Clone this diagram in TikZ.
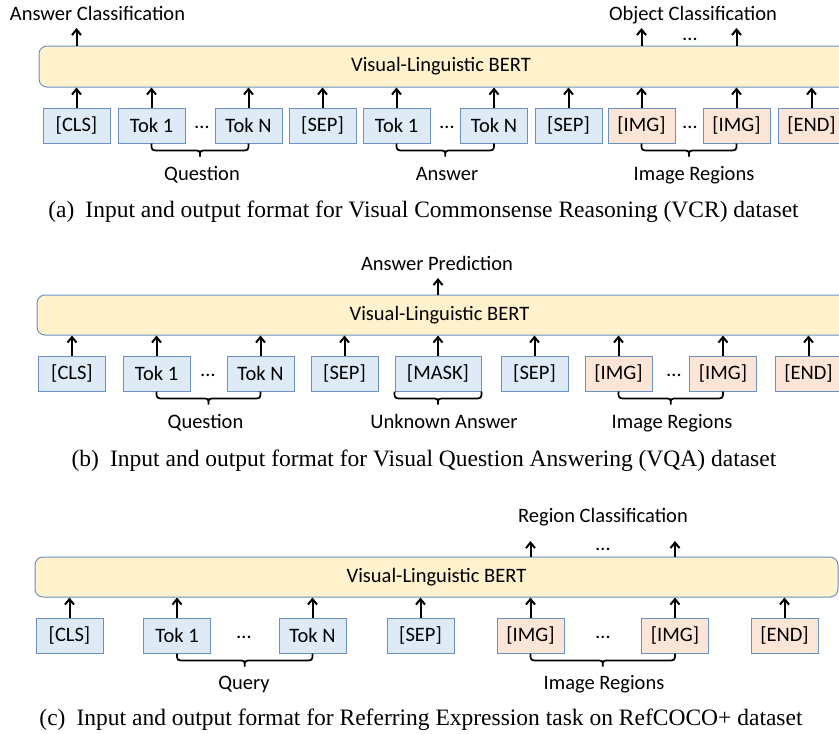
\documentclass[tikz,border=0pt]{standalone}
\usepackage{fontspec}
\setmainfont{Liberation Serif}
\newfontfamily\lblfont{Carlito}
\usetikzlibrary{arrows.meta,calc}
\definecolor{bordc}{HTML}{6A91C2}
\definecolor{tokfill}{HTML}{DEEBF7}
\definecolor{imgfill}{HTML}{FBE5D6}
\definecolor{bertfill}{HTML}{FFF2CC}
\newcommand\lblsize{\lblfont\fontsize{20.5}{24}\selectfont}
\newcommand\capsize{\fontsize{23.5}{27}\selectfont}
\newcommand\mybrace[2]{%
  \draw[brc] let \p1=(#1), \p2=(#2), \p3=($(#1)!0.5!(#2)$) in
    (\p1) .. controls (\x1,\y1-7pt) .. (\x1+8pt,\y1-7pt)
    -- (\x3-7pt,\y1-7pt) .. controls (\x3,\y1-7pt) .. (\x3,\y1-13pt)
    .. controls (\x3,\y1-7pt) .. (\x3+7pt,\y1-7pt)
    -- (\x2-8pt,\y1-7pt) .. controls (\x2,\y1-7pt) .. (\p2);}
\tikzset{
  tok/.style={draw=bordc, fill=tokfill, line width=1pt, minimum width=67pt,
    minimum height=35pt, inner sep=0pt, font=\lblsize},
  img/.style={tok, fill=imgfill},
  bert/.style={draw=bordc, fill=bertfill, line width=1pt, rounded corners=8pt,
    inner sep=0pt, font=\lblsize},
  arr/.style={-{Straight Barb[length=5.5pt,width=9pt]}, line width=2pt},
  brc/.style={line width=1.7pt},
  lbl/.style={font=\lblsize, inner sep=0pt, anchor=base},
  dotsn/.style={font=\lblsize, inner sep=0pt, anchor=base},
  captxt/.style={font=\capsize, inner sep=0pt, anchor=base},
}
\begin{document}
\begin{tikzpicture}[x=1pt,y=-1pt]
\useasboundingbox (0,0) rectangle (839,734);
\clip (0,0) rectangle (839,734);

% ---------------- panel (a)
\node[bert, minimum width=811pt, minimum height=41pt] (bA) at (444.5,66.5) {Visual-Linguistic BERT\hspace*{7pt}};
\node[tok] (a1) at (76.5,125.5) {[CLS]};
\node[tok] (a2) at (151.5,125.5) {Tok 1};
\node[dotsn] (ad1) at (202,128) {…};
\node[tok] (a3) at (248.5,125.5) {Tok N};
\node[tok] (a4) at (322.5,125.5) {[SEP]};
\node[tok] (a5) at (396.5,125.5) {Tok 1};
\node[dotsn] (ad2) at (447,128) {…};
\node[tok] (a6) at (494,125.5) {Tok N};
\node[tok] (a7) at (568.5,125.5) {[SEP]};
\node[img] (a8) at (641.5,125.5) {[IMG]};
\node[dotsn] (ad3) at (690,128) {…};
\node[img] (a9) at (736.5,125.5) {[IMG]};
\node[img] (a10) at (811.5,125.5) {[END]};
\foreach \n in {a1,a2,a3,a4,a5,a6,a7,a8,a9,a10}
  \draw[arr] (\n.north) -- (\n.north |- bA.south);
\coordinate (topA) at (0,28);
\node[lbl] (tA1) at (97.5,20) {Answer Classification};
\node[lbl] (tA2) at (693,20) {Object Classification};
\draw[arr] (a1.north |- bA.north) -- (a1.north |- topA);
\draw[arr] (a8.north |- bA.north) -- (a8.north |- topA);
\draw[arr] (a9.north |- bA.north) -- (a9.north |- topA);
\node[dotsn] (ad4) at (690,40) {…};
\mybrace{a2.south}{a3.south}
\mybrace{a5.south}{a6.south}
\mybrace{a8.south}{a9.south}
\node[lbl] (qA) at (202,180) {Question};
\node[lbl] (ansA) at (447,180) {Answer};
\node[lbl] (irA) at (694,180) {Image Regions};
\node[captxt] (capA) at (423.5,217) {(a)\hspace{0.47em}Input and output format for Visual Commonsense Reasoning (VCR) dataset};

% ---------------- panel (b)
\node[bert, minimum width=813pt, minimum height=40pt] (bB) at (443.5,315) {Visual-Linguistic BERT\hspace*{8pt}};
\node[tok] (b1) at (72,373.5) {[CLS]};
\node[tok] (b2) at (156.5,373.5) {Tok 1};
\node[dotsn] (bd1) at (208,376) {…};
\node[tok] (b3) at (260.5,373.5) {Tok N};
\node[tok] (b4) at (344.5,373.5) {[SEP]};
\node[tok, minimum width=86pt] (b5) at (438,373.5) {[MASK]};
\node[tok] (b6) at (534.5,373.5) {[SEP]};
\node[img] (b7) at (618.5,373.5) {[IMG]};
\node[dotsn] (bd2) at (674,376) {…};
\node[img] (b8) at (723,373.5) {[IMG]};
\node[img] (b9) at (808.5,373.5) {[END]};
\foreach \n in {b1,b2,b3,b4,b5,b6,b7,b8,b9}
  \draw[arr] (\n.north) -- (\n.north |- bB.south);
\coordinate (topB) at (0,278);
\node[lbl] (tB1) at (437,270) {Answer Prediction};
\draw[arr] (b5.north |- bB.north) -- (b5.north |- topB);
\mybrace{b2.south}{b3.south}
\mybrace{b5.south west}{b5.south east}
\mybrace{b7.south}{b8.south}
\node[lbl] (qB) at (205.5,428) {Question};
\node[lbl] (uaB) at (444,428) {Unknown Answer};
\node[lbl] (irB) at (672,428) {Image Regions};
\node[captxt] (capB) at (424,466) {(b)\hspace{0.47em}Input and output format for Visual Question Answering (VQA) dataset};

% ---------------- panel (c)
\node[bert, minimum width=803pt, minimum height=40pt] (bC) at (436.5,577) {Visual-Linguistic BERT};
\node[tok] (c1) at (69.5,635.5) {[CLS]};
\node[tok] (c2) at (177,635.5) {Tok 1};
\node[dotsn] (cd1) at (244,638) {…};
\node[tok] (c3) at (312.5,635.5) {Tok N};
\node[tok] (c4) at (420.5,635.5) {[SEP]};
\node[img] (c5) at (530.5,635.5) {[IMG]};
\node[dotsn] (cd2) at (603,638) {…};
\node[img] (c6) at (675,635.5) {[IMG]};
\node[img] (c7) at (784.5,635.5) {[END]};
\foreach \n in {c1,c2,c3,c4,c5,c6,c7}
  \draw[arr] (\n.north) -- (\n.north |- bC.south);
\coordinate (topC) at (0,541);
\node[lbl] (tC1) at (603,522) {Region Classification};
\draw[arr] (c5.north |- bC.north) -- (c5.north |- topC);
\draw[arr] (c6.north |- bC.north) -- (c6.north |- topC);
\node[dotsn] (cd3) at (603,550) {…};
\mybrace{c2.south}{c3.south}
\mybrace{c5.south}{c6.south}
\node[lbl] (qC) at (244,689) {Query};
\node[lbl] (irC) at (604,689) {Image Regions};
\node[captxt] (capC) at (421,725) {(c)\hspace{0.47em}Input and output format for Referring Expression task on RefCOCO+ dataset};
\end{tikzpicture}
\end{document}
